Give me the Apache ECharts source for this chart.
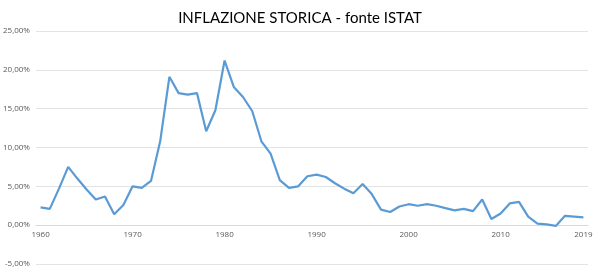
<!DOCTYPE html>
<html><head><meta charset="utf-8">
<script src="https://cdn.jsdelivr.net/npm/echarts@6/dist/echarts.min.js"></script>
<style>html,body{margin:0;padding:0;background:#fff}#c{width:600px;height:273px}</style>
</head><body><div id="c"></div>
<script>
var years = [];
for (var y = 1960; y <= 2019; y++) years.push(String(y));
var shownLabels = ['1960','1970','1980','1990','2000','2010','2019'];
var inflation = [
  2.3, 2.1, 4.7, 7.5, 6.0, 4.6, 3.3, 3.7, 1.4, 2.6,
  5.0, 4.8, 5.7, 10.8, 19.1, 17.0, 16.8, 17.0, 12.1, 14.8,
  21.2, 17.8, 16.5, 14.7, 10.8, 9.2, 5.8, 4.8, 5.0, 6.3,
  6.5, 6.2, 5.4, 4.7, 4.1, 5.3, 4.0, 2.0, 1.7, 2.4,
  2.7, 2.5, 2.7, 2.5, 2.2, 1.9, 2.1, 1.8, 3.3, 0.8,
  1.5, 2.8, 3.0, 1.1, 0.2, 0.1, -0.1, 1.2, 1.1, 1.0
];
var yTicks = [-5, 0, 5, 10, 15, 20, 25];
var gridTop = 31, gridBottom = 9, chartH = 273;
var plotH = chartH - gridTop - gridBottom;
var zeroOffset = -plotH * (0 - yTicks[0]) / (yTicks[yTicks.length - 1] - yTicks[0]);
var chart = echarts.init(document.getElementById('c'));
chart.setOption({
  animation: false,
  title: {
    text: 'INFLAZIONE STORICA - fonte ISTAT',
    left: 'center', top: 6,
    textStyle: {fontFamily: 'Lato', fontSize: 15, fontWeight: 'normal', color: '#000'}
  },
  grid: {left: 34, right: 12, top: gridTop, bottom: gridBottom},
  xAxis: {
    type: 'category', data: years, boundaryGap: true,
    offset: zeroOffset,
    axisLine: {onZero: false, lineStyle: {color: '#d9d9d9'}},
    axisTick: {show: false},
    axisLabel: {
      interval: 0, color: '#595959', fontFamily: 'Open Sans', fontSize: 8, margin: 6,
      formatter: function (v) { return shownLabels.indexOf(v) >= 0 ? v : ''; }
    },
    splitLine: {show: false}
  },
  yAxis: {
    type: 'value', min: yTicks[0], max: yTicks[yTicks.length - 1], interval: 5,
    axisLine: {show: false}, axisTick: {show: false},
    axisLabel: {
      color: '#595959', fontFamily: 'Open Sans', fontSize: 8, margin: 6,
      formatter: function (v) { return v.toFixed(2).replace('.', ',') + '%'; }
    },
    splitLine: {lineStyle: {color: '#e3e3e3'}}
  },
  series: [{
    type: 'line', data: inflation, symbol: 'none',
    lineStyle: {color: '#5b9bd5', width: 2.2}
  }]
});
</script></body></html>
